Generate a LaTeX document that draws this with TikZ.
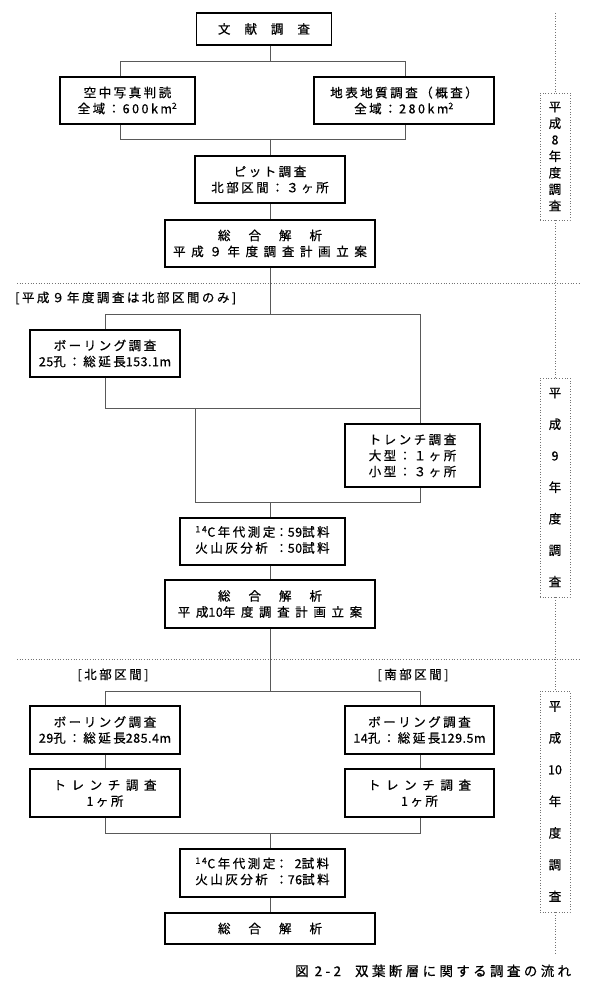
\documentclass[tikz,border=0pt]{standalone}
\usepackage{fontspec}
\setmainfont[FakeBold=0.6]{Noto Sans CJK JP}
\newfontfamily\jpfont[LetterSpace=20,FakeBold=0.6]{Noto Sans CJK JP}
\newfontfamily\jpwide[LetterSpace=45,FakeBold=0.6]{Noto Sans CJK JP}
\newfontfamily\jpplain[LetterSpace=4,FakeBold=0.6]{Noto Sans CJK JP}
\newfontfamily\jpcap[LetterSpace=25,FakeBold=0.6]{Noto Sans CJK JP}
\newcommand{\wsp}{\hspace{18pt}}
\newcommand{\dg}[1]{{\jpplain #1}}
\begin{document}
\begin{tikzpicture}[x=1pt,y=-1pt,
  box/.style={draw=black, line width=1.2pt, fill=white, inner sep=0pt, align=center,
    font=\jpfont\fontsize{12.5}{16}\selectfont},
  conn/.style={draw=black!65, line width=0.6pt},
  dotl/.style={draw=black!55, line width=0.7pt, dotted},
  sidebox/.style={draw=black!55, line width=0.7pt, dotted, fill=white, inner sep=0pt, align=center,
    minimum width=30pt, font=\fontsize{12.5}{16.5}\selectfont},
  lbl/.style={inner sep=0pt, font=\jpfont\fontsize{12.5}{16}\selectfont}
]
\useasboundingbox (0,0) rectangle (595,995);
\fill[white] (0,0) rectangle (595,995);

% dotted separators
\draw[dotl] (17,283) -- (580,283);
\draw[dotl] (17,659) -- (580,659);

% ---- boxes
\node[box, minimum width=135pt, minimum height=32pt] (A) at (264,29) {文\hspace{14pt}献\hspace{14pt}調\hspace{14pt}査};
\node[box, minimum width=135pt, minimum height=47pt] (B) at (127.5,100.5) {空中写真判読\\全域：600km\textsuperscript{2}};
\node[box, minimum width=180pt, minimum height=47pt] (C) at (404,100.5) {地表地質調査（概査）\\全域：280km\textsuperscript{2}};
\node[box, minimum width=150pt, minimum height=47pt] (D) at (270,179.5) {ピット調査\\北部区間：３ヶ所};
\node[box, minimum width=210pt, minimum height=47pt] (E) at (270,243.5) {総\wsp 合\wsp 解\wsp 析\\{\jpwide 平成９年度調査計画立案}};

\node[lbl, anchor=west] (T1) at (15,298) {[平成９年度調査は北部区間のみ]};

\node[box, minimum width=150pt, minimum height=47pt] (F) at (105,353.5) {ボーリング調査\\\dg{25}孔：総延長\dg{153.1m}};
\node[box, minimum width=135pt, minimum height=63pt] (G) at (412.5,455.5) {トレンチ調査\\大型：１ヶ所\\小型：３ヶ所};
\node[box, minimum width=165pt, minimum height=47pt] (H) at (262.5,541.5) {%
  \begin{tabular}{@{}l@{}l@{}}\textsuperscript{14}C年代測定&：\dg{59}試料\\火山灰分析&：\dg{50}試料\end{tabular}};
\node[box, minimum width=210pt, minimum height=48pt] (I) at (270,604) {総\wsp 合\wsp 解\wsp 析\\{\jpwide 平成\dg{10}年度調査計画立案}};

\node[lbl] (T2) at (113,675) {[北部区間]};
\node[lbl] (T3) at (413,675) {[南部区間]};

\node[box, minimum width=150pt, minimum height=48pt] (J) at (105,730) {ボーリング調査\\\dg{29}孔：総延長\dg{285.4m}};
\node[box, minimum width=150pt, minimum height=48pt] (K) at (105,793) {{\jpwide トレンチ調査}\\1ヶ所};
\node[box, minimum width=149pt, minimum height=48pt] (L) at (419.5,730) {ボーリング調査\\\dg{14}孔：総延長\dg{129.5m}};
\node[box, minimum width=149pt, minimum height=48pt] (M) at (419.5,793) {{\jpwide トレンチ調査}\\1ヶ所};
\node[box, minimum width=165pt, minimum height=48pt] (N) at (262.5,873) {%
  \begin{tabular}{@{}l@{}l@{}}\textsuperscript{14}C年代測定&：\dg{\hphantom{7}2}試料\\火山灰分析&：\dg{76}試料\end{tabular}};
\node[box, minimum width=210pt, minimum height=31pt] (O) at (270,928.5) {総\wsp 合\wsp 解\wsp 析};

\node[lbl, anchor=west, font=\jpcap\fontsize{13.5}{16}\selectfont] (CAP) at (295,971) {図\hspace{6pt}2-2\hspace{14pt}双葉断層に関する調査の流れ};

% ---- side labels
\coordinate (vtop) at (555,13);
\coordinate (vbot) at (555,953);
\node[sidebox, minimum height=127pt] (P) at (555,156.5) {平\\成\\8\\年\\度\\調\\査};
\node[sidebox, minimum height=219pt, font=\fontsize{12.5}{31.5}\selectfont] (Q) at (555,487.5) {平\\成\\9\\年\\度\\調\\査};
\node[sidebox, minimum height=221pt, font=\fontsize{12.5}{31.7}\selectfont] (R) at (555,801.5) {平\\成\\10\\年\\度\\調\\査};
\draw[dotl] (vtop) -- (P.north);
\draw[dotl] (P.south) -- (Q.north);
\draw[dotl] (Q.south) -- (R.north);
\draw[dotl] (R.south) -- (vbot);

% ---- connectors, year 8
\coordinate (f1l) at (120,61);
\coordinate (f1r) at (405,61);
\coordinate (m1l) at (120,139);
\coordinate (m1r) at (405,139);
\draw[conn] (A.south -| D.north) -- (D.north |- f1l);
\draw[conn] (B.north -| f1l) -- (f1l) -- (f1r) -- (C.north -| f1r);
\draw[conn] (B.south -| m1l) -- (m1l) -- (m1r) -- (C.south -| m1r);
\draw[conn] (D.north |- m1l) -- (D.north);
\draw[conn] (D.south) -- (E.north);

% ---- year 9
\coordinate (f2l) at (105,314);
\coordinate (f2r) at (420,314);
\coordinate (g2l) at (105,408);
\coordinate (g2m) at (195,408);
\coordinate (g2r) at (420,408);
\coordinate (h2l) at (195,502);
\coordinate (h2r) at (420,502);
\draw[conn] (E.south) -- (E.south |- f2l);
\draw[conn] (F.north) -- (f2l) -- (f2r) -- (G.north -| f2r);
\draw[conn] (F.south) -- (g2l) -- (g2r);
\draw[conn] (g2m) -- (h2l) -- (h2r) -- (G.south -| h2r);
\draw[conn] (E.south |- h2l) -- (E.south |- H.north);
\draw[conn] (E.south |- H.south) -- (I.north);

% ---- year 10
\coordinate (f3l) at (105,691);
\coordinate (f3r) at (420,691);
\coordinate (m3l) at (105,833);
\coordinate (m3r) at (420,833);
\draw[conn] (I.south) -- (I.south |- f3l);
\draw[conn] (J.north) -- (f3l) -- (f3r) -- (L.north -| f3r);
\draw[conn] (J.south) -- (K.north);
\draw[conn] (L.south -| f3r) -- (M.north -| f3r);
\draw[conn] (K.south) -- (m3l) -- (m3r) -- (M.south -| m3r);
\draw[conn] (I.south |- m3l) -- (I.south |- N.north);
\draw[conn] (O.north |- N.south) -- (O.north);
\end{tikzpicture}
\end{document}
